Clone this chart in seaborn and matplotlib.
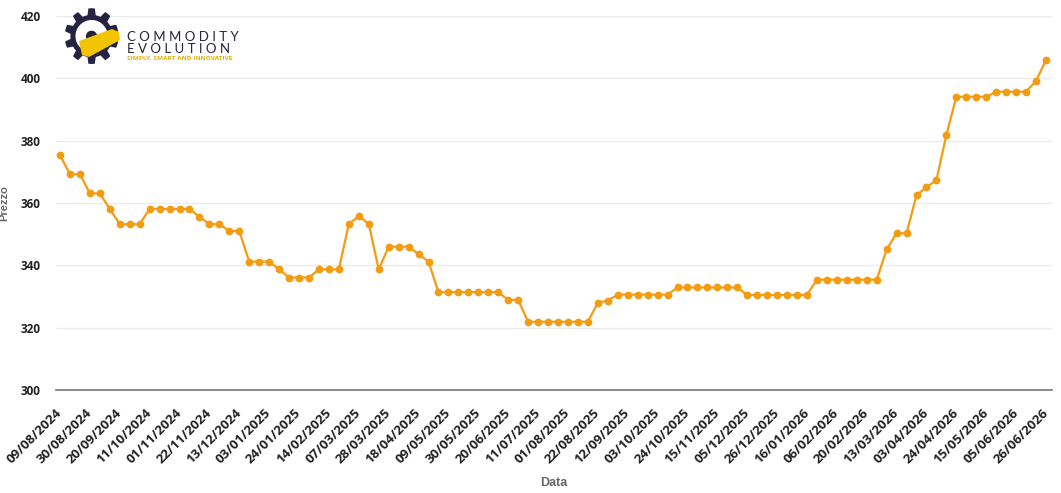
"""
Weekly price line chart (Prezzo vs Data) with a Commodity Evolution badge.
"""

import matplotlib
matplotlib.use("Agg")
import matplotlib.pyplot as plt
import pandas as pd
import seaborn as sns
from matplotlib.patches import Polygon

PRICES = [
    375.4, 369.2, 369.2, 363.1, 363.1, 358.1, 353.2, 353.2, 353.2, 358.1,
    358.1, 358.1, 358.1, 358.1, 355.6, 353.2, 353.2, 351.0, 351.0, 341.2,
    341.2, 341.2, 338.7, 336.1, 336.1, 336.1, 338.7, 338.7, 338.7, 353.3,
    355.8, 353.3, 338.7, 346.0, 346.0, 346.0, 343.6, 341.2, 331.4, 331.4,
    331.4, 331.4, 331.4, 331.4, 331.4, 328.9, 328.9, 321.9, 321.9, 321.9,
    321.9, 321.9, 321.9, 321.9, 328.0, 328.7, 330.6, 330.6, 330.6, 330.6,
    330.6, 330.6, 332.9, 332.9, 332.9, 332.9, 332.9, 332.9, 332.9, 330.5,
    330.5, 330.5, 330.5, 330.5, 330.5, 330.5, 335.4, 335.4, 335.4, 335.4,
    335.4, 335.4, 335.4, 345.1, 350.3, 350.3, 362.6, 365.0, 367.4, 381.9,
    394.1, 394.1, 394.1, 394.1, 395.7, 395.7, 395.7, 395.7, 399.2, 405.9,
]

TICK_LABELS = [
    "09/08/2024", "30/08/2024", "20/09/2024", "11/10/2024", "01/11/2024",
    "22/11/2024", "13/12/2024", "03/01/2025", "24/01/2025", "14/02/2025",
    "07/03/2025", "28/03/2025", "18/04/2025", "09/05/2025", "30/05/2025",
    "20/06/2025", "11/07/2025", "01/08/2025", "22/08/2025", "12/09/2025",
    "03/10/2025", "24/10/2025", "15/11/2025", "05/12/2025", "26/12/2025",
    "16/01/2026", "06/02/2026", "20/02/2026", "13/03/2026", "03/04/2026",
    "24/04/2026", "15/05/2026", "05/06/2026", "26/06/2026",
]
TICK_STEP = 3

Y_TICKS = [300, 320, 340, 360, 380, 400, 420]

LINE_COLOR = "#F39C12"
TEXT_COLOR = "#222222"
LABEL_COLOR = "#666666"
NAVY = "#25233f"
YELLOW = "#f2c500"

W, H = 1061, 493


def px(x, y):
    # pixel position (from top-left) -> figure fraction
    return x / W, 1 - y / H


def create_price_chart() -> None:
    df = pd.DataFrame({"Data": range(len(PRICES)), "Prezzo": PRICES})

    sns.set_style("white")
    plt.rcParams["font.family"] = ["Open Sans", "DejaVu Sans"]

    fig = plt.figure(figsize=(W / 100, H / 100), dpi=100)
    ax = fig.add_axes([0.0528, 0.2089, 0.9387, 0.7586])

    sns.lineplot(
        data=df, x="Data", y="Prezzo", ax=ax,
        color=LINE_COLOR, linewidth=1.6, marker="o", markersize=5.6,
        markeredgewidth=0, zorder=3,
    )

    ax.set_xlim(-0.4, len(PRICES) - 0.4)
    ax.set_ylim(300, 420)
    ax.set_yticks(Y_TICKS)
    ax.set_yticklabels([str(v) for v in Y_TICKS], fontsize=8.5,
                       fontweight="bold", color=TEXT_COLOR)
    ax.set_xticks(range(0, len(PRICES), TICK_STEP))
    ax.set_xticklabels(TICK_LABELS, rotation=45, ha="right", va="center",
                       rotation_mode="anchor", fontsize=9.5,
                       fontweight="bold", color=TEXT_COLOR)
    ax.tick_params(axis="y", length=0, pad=11)
    ax.tick_params(axis="x", length=0, pad=15)

    ax.grid(axis="y", color="#ebebeb", linewidth=1)
    ax.grid(axis="x", visible=False)
    for side in ["top", "right", "left"]:
        ax.spines[side].set_visible(False)
    ax.spines["bottom"].set_color("#777777")
    ax.spines["bottom"].set_linewidth(1.2)

    ax.set_xlabel("Data", fontsize=9, fontweight="bold", color=LABEL_COLOR,
                  family=["Liberation Sans", "DejaVu Sans"])
    ax.xaxis.set_label_coords(0.5, -0.232)
    ax.set_ylabel("Prezzo", fontsize=8, fontweight="bold", color=LABEL_COLOR,
                  family=["Liberation Sans", "DejaVu Sans"])
    ax.yaxis.set_label_coords(-0.047, 0.5)

    # badge in the top-left corner: gear, yellow tag, wordmark
    gx, gy = px(92, 43)
    fig.text(gx, gy, "\u2699", fontsize=54, color=NAVY,
             ha="center", va="center", family="DejaVu Sans")
    tag = [px(82, 55), px(79, 41), px(112, 29), px(119, 32), px(120, 40),
           px(89, 57)]
    fig.patches.append(Polygon(tag, closed=True, transform=fig.transFigure,
                               facecolor=YELLOW, edgecolor="none",
                               zorder=5))
    tx, _ = px(127, 0)
    fig.text(tx, px(0, 37)[1], "C O M M O D I T Y", fontsize=9.5,
             color=NAVY, ha="left", va="center",
             family=["Lato", "DejaVu Sans"])
    fig.text(tx, px(0, 49)[1], "E V O L U T I O N", fontsize=9.5,
             color=NAVY, ha="left", va="center",
             family=["Lato", "DejaVu Sans"])
    fig.text(tx, px(0, 58)[1], "SIMPLY, SMART AND INNOVATIVE", fontsize=4.6,
             color="#e0b000", ha="left", va="center", fontweight="bold")

    fig.savefig("out.png", dpi=100)


if __name__ == "__main__":
    create_price_chart()
